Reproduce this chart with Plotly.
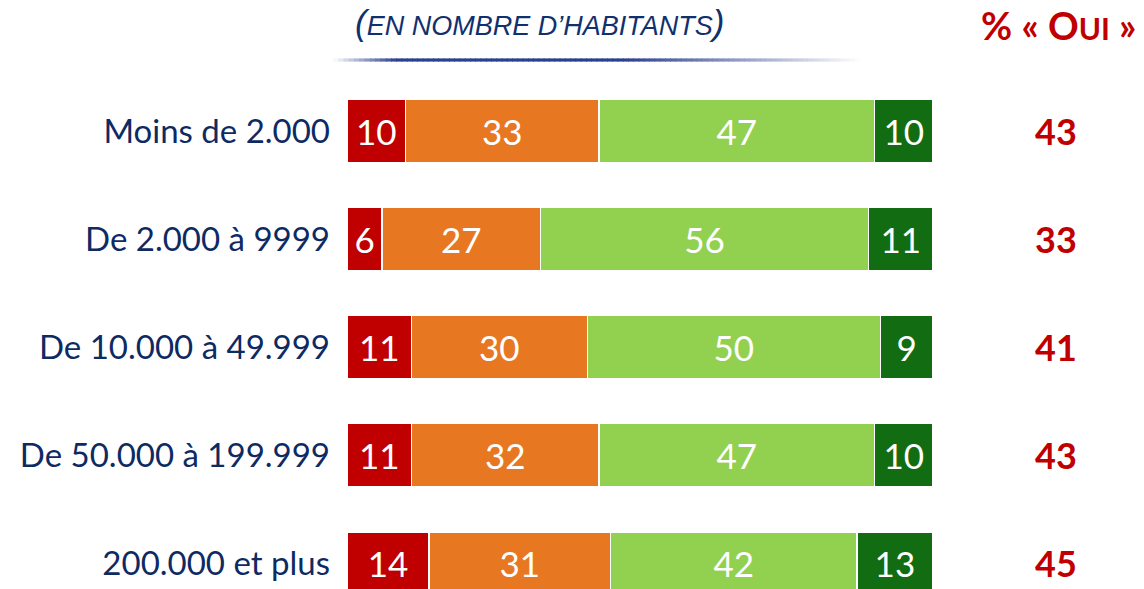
import plotly.graph_objects as go

categories = ["Moins de 2.000", "De 2.000 à 9999", "De 10.000 à 49.999",
              "De 50.000 à 199.999", "200.000 et plus"]
series_names = ["Non, pas du tout", "Non, plutôt pas", "Oui, plutôt", "Oui, tout à fait"]
v_red = [10, 6, 11, 11, 14]
v_orange = [33, 27, 30, 32, 31]
v_lgreen = [47, 56, 50, 47, 42]
v_dgreen = [10, 11, 9, 10, 13]
pct_oui = [43, 33, 41, 43, 45]

colors = ["#C00000", "#E87722", "#92D050", "#116C12"]
series = [v_red, v_orange, v_lgreen, v_dgreen]

FONT = "Lato"
NAVY = "#0E2A63"

W, H = 1144, 589
ML, MR, MT, MB = 347, 211, 77, 0
PW, PH = W - ML - MR, H - MT - MB


def px2x(px):
    return (px - ML) / PW


def px2y(py):
    return 1 - (py - MT) / PH


fig = go.Figure()
for name, vals, col in zip(series_names, series, colors):
    fig.add_trace(go.Bar(
        y=categories, x=vals, orientation="h", name=name,
        marker=dict(color=col, line=dict(color="white", width=1.5)),
        text=[str(v) for v in vals], textposition="inside",
        insidetextanchor="middle", constraintext="none",
        textfont=dict(color="white", size=35, family=FONT),
        cliponaxis=False, showlegend=False,
    ))

# right-hand "% Oui" values
for cat, p in zip(categories, pct_oui):
    fig.add_annotation(x=px2x(1056), xref="paper", y=cat, yref="y", text=f"<b>{p}</b>",
                       showarrow=False, xanchor="center",
                       font=dict(size=36, color="#C00000", family=FONT))

# header right
fig.add_annotation(
    x=px2x(1058), xref="paper", y=px2y(25), yref="paper", yanchor="middle",
    text="<b>% « O<span style='font-size:30px'>UI</span> »</b>",
    showarrow=False, xanchor="center", font=dict(size=38, color="#C00000", family=FONT))

# header title
fig.add_annotation(
    x=px2x(539), xref="paper", y=px2y(22), yref="paper", yanchor="middle",
    text="<i><span style='font-size:35px'>(</span>EN NOMBRE D’HABITANTS<span style='font-size:35px'>)</span></i>",
    showarrow=False, xanchor="center", font=dict(size=27, color="#10306E", family="Liberation Sans"))

# gradient underline
x0, x1, ymid = 333, 860, 60
N = 100
for i in range(N):
    t = (i + 0.5) / N
    if t < 0.12:
        a = t / 0.12
    elif t < 0.55:
        a = 1.0
    else:
        a = max(0.0, 1 - (t - 0.55) / 0.45)
    r = int(255 + (43 - 255) * a)
    g = int(255 + (63 - 255) * a)
    b = int(255 + (143 - 255) * a)
    xa = x0 + (x1 - x0) * i / N
    xb = x0 + (x1 - x0) * (i + 1.15) / N
    fig.add_shape(type="rect", xref="paper", yref="paper",
                  x0=px2x(xa), x1=px2x(xb), y0=px2y(ymid + 1.6), y1=px2y(ymid - 1.6),
                  line=dict(width=0), fillcolor=f"rgb({r},{g},{b})", layer="above")

fig.update_layout(
    barmode="stack", bargap=0.42,
    width=W, height=H,
    margin=dict(l=ML, r=MR, t=MT, b=MB),
    plot_bgcolor="white", paper_bgcolor="white",
    xaxis=dict(range=[0, 100], visible=False, fixedrange=True),
    yaxis=dict(range=[4.24, -0.5], showgrid=False, zeroline=False, showline=False,
               ticks="", ticklabelstandoff=16, fixedrange=True,
               tickfont=dict(size=33, color=NAVY, family=FONT)),
)

fig.write_html("out.html", config={"displayModeBar": False},
               post_script="document.body.style.margin='0';")
